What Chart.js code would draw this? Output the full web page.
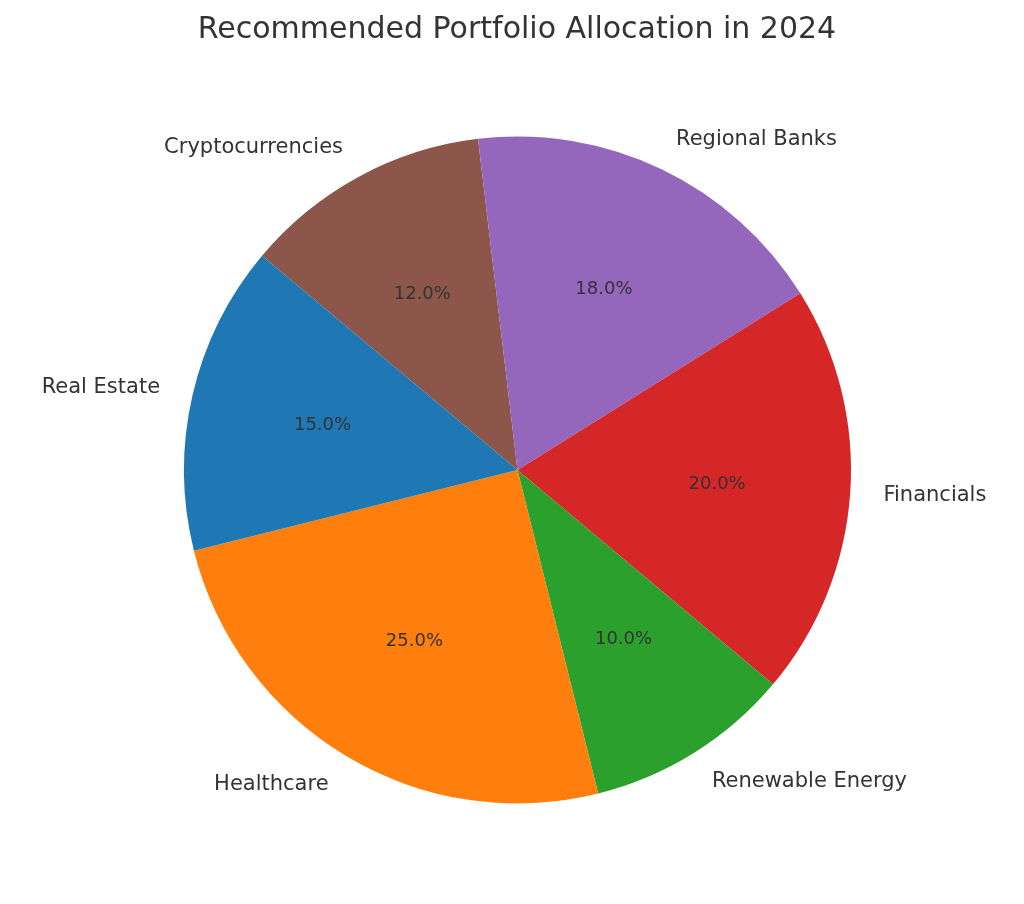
<!DOCTYPE html>
<html>
<head>
<meta charset="utf-8">
<script src="https://cdn.jsdelivr.net/npm/chart.js@4"></script>
<style>
  html, body { margin: 0; padding: 0; background: #fff; }
  #wrap { width: 1024px; height: 904px; }
</style>
</head>
<body>
<div id="wrap"><canvas id="pieChart"></canvas></div>
<script>
// drawn clockwise from the Cryptocurrencies slice (matplotlib draws the reverse order)
const sectors = ['Cryptocurrencies', 'Regional Banks', 'Financials', 'Renewable Energy', 'Healthcare', 'Real Estate'];
const shares = [12, 18, 20, 10, 25, 15];
const colours = ['#8c564b', '#9467bd', '#d62728', '#2ca02c', '#ff7f0e', '#1f77b4'];

const labelPlugin = {
    id: 'pieLabels',
    afterDraw(chart) {
        const ctx = chart.ctx;
        ctx.save();
        ctx.fillStyle = '#333333';
        ctx.font = '30px "DejaVu Sans"';
        ctx.textAlign = 'center';
        ctx.textBaseline = 'middle';
        ctx.fillText('Recommended Portfolio Allocation in 2024', 517, 30);

        const total = shares.reduce((a, b) => a + b, 0);
        chart.getDatasetMeta(0).data.forEach((arc, i) => {
            const mid = (arc.startAngle + arc.endAngle) / 2;
            const r = arc.outerRadius;
            const cx = Math.cos(mid), cy = Math.sin(mid);
            ctx.font = '18px "DejaVu Sans"';
            ctx.textAlign = 'center';
            ctx.fillText((shares[i] / total * 100).toFixed(1) + '%', arc.x + cx * r * 0.6, arc.y + cy * r * 0.6);
            ctx.font = '21px "DejaVu Sans"';
            ctx.textAlign = cx >= 0 ? 'left' : 'right';
            ctx.fillText(sectors[i], arc.x + cx * r * 1.1, arc.y + cy * r * 1.1);
        });
        ctx.restore();
    }
};

const ctx = document.getElementById('pieChart').getContext('2d');
const pieChart = new Chart(ctx, {
    type: 'pie',
    data: {
        labels: sectors,
        datasets: [{
            data: shares,
            backgroundColor: colours,
            borderWidth: 0
        }]
    },
    options: {
        responsive: true,
        maintainAspectRatio: false,
        animation: false,
        rotation: -50,
        layout: { padding: { top: 136, bottom: 100, left: 184, right: 173 } },
        plugins: {
            legend: { display: false },
            tooltip: { enabled: false },
            title: { display: false }
        }
    },
    plugins: [labelPlugin]
});
</script>
</body>
</html>
